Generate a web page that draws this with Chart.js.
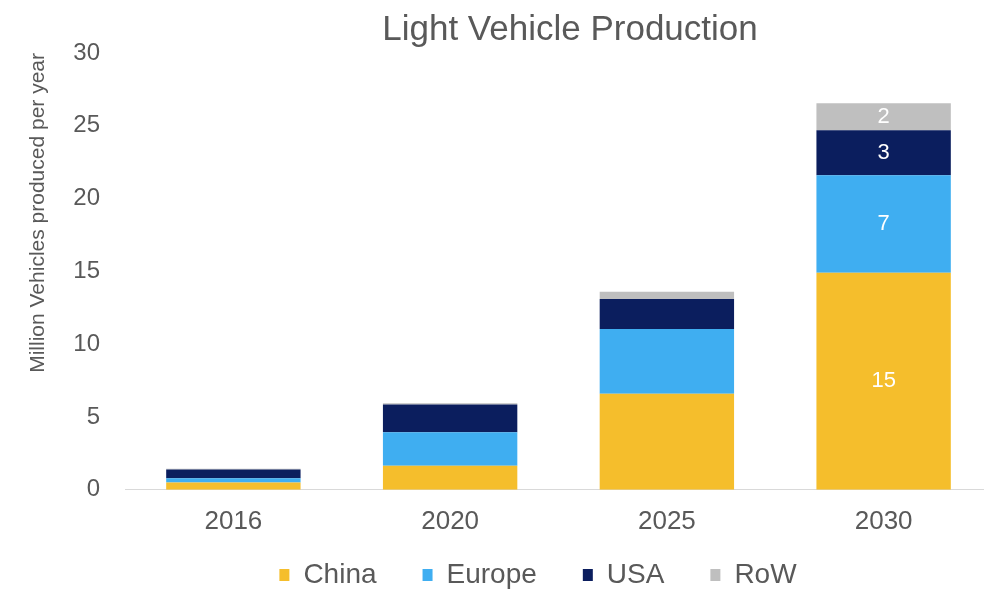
<!DOCTYPE html>
<html lang="en">
<head>
<meta charset="UTF-8">
<title>Light Vehicle Production</title>
<script src="https://cdn.jsdelivr.net/npm/chart.js@4"></script>
<style>
    html, body { margin: 0; padding: 0; background: #ffffff; overflow: hidden; }
    #wrap { width: 984px; height: 592px; overflow: hidden; }
    canvas { display: block; }
</style>
</head>
<body>
<div id="wrap">
    <canvas id="grafico" width="1000" height="592"></canvas>
</div>
<script>
// datos (millones de vehiculos)
const years = ['2016', '2020', '2025', '2030'];
const china = [0.5, 1.65, 6.6, 14.9];
const europe = [0.3, 2.3, 4.45, 6.7];
const usa = [0.6, 1.9, 2.05, 3.1];
const row = [0.05, 0.1, 0.5, 1.85];
const yTicks = [0, 5, 10, 15, 20, 25, 30];
const labelledYear = '2030';

const gris = '#595959';
const fuente = '"Liberation Sans", Arial, sans-serif';

// etiquetas blancas dentro de la barra de 2030
const etiquetas = {
    id: 'etiquetas',
    afterDatasetsDraw(chart) {
        const ctx = chart.ctx;
        const idx = years.indexOf(labelledYear);
        ctx.save();
        ctx.font = '22px ' + fuente;
        ctx.fillStyle = '#ffffff';
        ctx.textAlign = 'center';
        ctx.textBaseline = 'middle';
        chart.data.datasets.forEach((ds, i) => {
            const bar = chart.getDatasetMeta(i).data[idx];
            if (!bar) return;
            ctx.fillText(String(Math.round(ds.data[idx])), bar.x, (bar.y + bar.base) / 2);
        });
        ctx.restore();
    }
};

// mueve titulo y leyenda a donde estan en la imagen
const acomodar = {
    id: 'acomodar',
    afterLayout(chart) {
        const t = chart.titleBlock;
        t.left += 61; t.right += 61;
        const lg = chart.legend;
        const dy = 515 - lg.top;
        lg.left += 29; lg.right += 29;
        lg.top += dy; lg.bottom += dy;
    }
};

new Chart(document.getElementById('grafico'), {
    type: 'bar',
    data: {
        labels: years,
        datasets: [
            { label: 'China', data: china, backgroundColor: '#F5BE2C' },
            { label: 'Europe', data: europe, backgroundColor: '#3FAEF1' },
            { label: 'USA', data: usa, backgroundColor: '#0B1E5E' },
            { label: 'RoW', data: row, backgroundColor: '#BFBFBF' }
        ]
    },
    options: {
        responsive: false,
        animation: false,
        devicePixelRatio: 1,
        categoryPercentage: 1,
        barPercentage: 0.62,
        layout: { padding: { left: 26, right: 8, top: 0, bottom: -45 } },
        plugins: {
            title: {
                display: true,
                text: 'Light Vehicle Production',
                color: gris,
                font: { family: fuente, size: 35, weight: 'normal' },
                padding: { top: 9, bottom: 2 }
            },
            legend: {
                position: 'bottom',
                labels: {
                    color: gris,
                    boxWidth: 10,
                    boxHeight: 12,
                    padding: 46,
                    font: { family: fuente, size: 28 }
                }
            },
            tooltip: { enabled: false }
        },
        scales: {
            x: {
                stacked: true,
                grid: { display: false, drawTicks: false },
                border: { display: true, color: '#d9d9d9', width: 1 },
                ticks: {
                    color: gris,
                    padding: 16,
                    font: { family: fuente, size: 26 }
                }
            },
            y: {
                stacked: true,
                min: yTicks[0],
                max: yTicks[yTicks.length - 1],
                grid: { display: false, drawTicks: false },
                border: { display: false },
                afterBuildTicks(scale) { scale.ticks = yTicks.map(v => ({ value: v })); },
                ticks: {
                    color: gris,
                    padding: 25,
                    font: { family: fuente, size: 24 }
                },
                title: {
                    display: true,
                    text: 'Million Vehicles produced per year',
                    align: 'end',
                    color: gris,
                    padding: { top: 0, bottom: 0 },
                    font: { family: fuente, size: 21 }
                },
                afterFit(scale) { scale.width = 99; }
            }
        }
    },
    plugins: [etiquetas, acomodar]
});
</script>
</body>
</html>
